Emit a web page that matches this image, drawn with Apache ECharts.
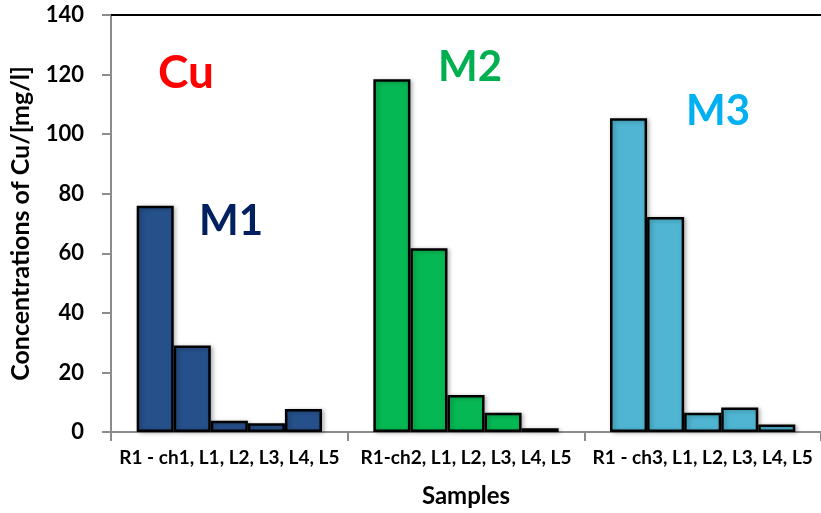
<!DOCTYPE html>
<html>
<head>
<meta charset="utf-8">
<script src="https://cdn.jsdelivr.net/npm/echarts@6/dist/echarts.min.js"></script>
<style>html,body{margin:0;padding:0;background:#fff}#c{width:821px;height:513px}</style>
</head>
<body>
<div id="c"></div>
<script>
const categories = ['R1 - ch1, L1, L2, L3, L4, L5', 'R1-ch2, L1, L2, L3, L4, L5', 'R1 - ch3, L1, L2, L3, L4, L5'];
const sampleNames = ['ch', 'L1', 'L2', 'L3', 'L4'];
const M1 = [76, 29, 3.8, 2.9, 7.7];
const M2 = [118.4, 61.7, 12.4, 6.5, 1.3];
const M3 = [105.3, 72.2, 6.5, 8.2, 2.5];
const groupColors = ['#25508a', '#06b853', '#4fb5d2'];
const yTicks = [0, 20, 40, 60, 80, 100, 120, 140];

const groups = [M1, M2, M3];
const series = sampleNames.map((n, i) => ({
  name: n,
  type: 'bar',
  barGap: '0%',
  barCategoryGap: '21.7%',
  data: groups.map((g, gi) => ({
    value: g[i],
    itemStyle: { color: groupColors[gi] }
  })),
  itemStyle: {
    borderColor: '#000',
    borderWidth: 2.5,
    shadowColor: 'rgba(0,0,0,0.25)',
    shadowBlur: 4,
    shadowOffsetX: 2,
    shadowOffsetY: 1
  }
}));

const chart = echarts.init(document.getElementById('c'));
chart.setOption({
  animation: false,
  backgroundColor: '#fff',
  grid: { left: 110, right: -1, top: 15, bottom: 81, containLabel: false },
  xAxis: [{
    type: 'category',
    data: categories,
    name: 'Samples',
    nameLocation: 'middle',
    nameGap: 52,
    nameTextStyle: { fontFamily: 'Lato', fontWeight: 'bold', fontSize: 24, color: '#000' },
    axisLine: { lineStyle: { color: '#8c8c8c', width: 2 } },
    axisTick: { show: true, length: 9, lineStyle: { color: '#8c8c8c', width: 2 } },
    axisLabel: { margin: 16, fontFamily: 'Lato', fontWeight: 'bold', fontSize: 19, color: '#000', interval: 0 }
  }, {
    type: 'category',
    position: 'top',
    data: categories,
    axisLine: { lineStyle: { color: '#000', width: 2 } },
    axisTick: { show: false },
    axisLabel: { show: false }
  }],
  yAxis: {
    type: 'value',
    min: yTicks[0],
    max: yTicks[yTicks.length - 1],
    interval: 20,
    name: 'Concentrations of Cu/[mg/l]',
    nameLocation: 'middle',
    nameGap: 78,
    nameRotate: 90,
    nameTextStyle: { fontFamily: 'Lato', fontWeight: 'bold', fontSize: 25, color: '#000' },
    axisLine: { show: true, lineStyle: { color: '#8c8c8c', width: 2 } },
    axisTick: { show: true, length: 9, lineStyle: { color: '#8c8c8c', width: 2 } },
    splitLine: { show: false },
    axisLabel: { margin: 27, fontFamily: 'Lato', fontWeight: 'bold', fontSize: 22, color: '#000' }
  },
  series: series,
  graphic: [
    { type: 'text', left: 158, top: 50, style: { text: 'Cu', fill: '#ff0000', font: 'bold 46px Lato' } },
    { type: 'text', left: 199, top: 200, style: { text: 'M1', fill: '#002060', font: 'bold 42px Lato' } },
    { type: 'text', left: 438, top: 46, style: { text: 'M2', fill: '#00b050', font: 'bold 42px Lato' } },
    { type: 'text', left: 686, top: 90, style: { text: 'M3', fill: '#00b0f0', font: 'bold 42px Lato' } }
  ]
});
</script>
</body>
</html>
